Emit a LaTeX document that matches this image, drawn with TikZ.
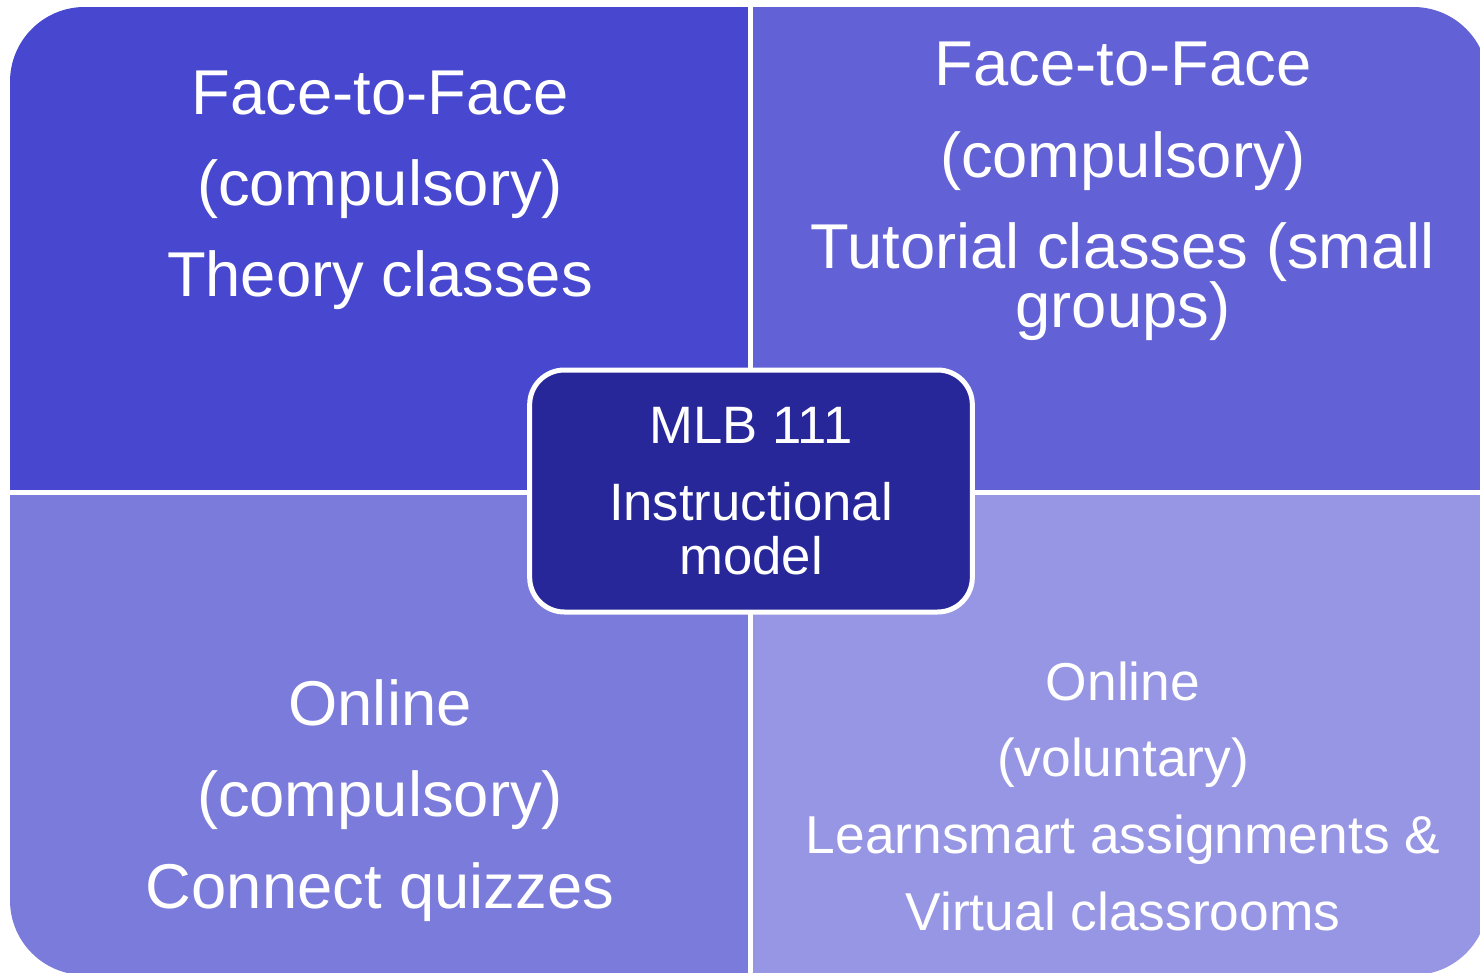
\documentclass[tikz,border=0pt]{standalone}
\usepackage{fontspec}
\setmainfont{Liberation Sans}
\usetikzlibrary{positioning}
\definecolor{theoryblue}{RGB}{71, 71, 207}
\definecolor{tutorblue}{RGB}{98, 98, 214}
\definecolor{quizblue}{RGB}{123, 123, 220}
\definecolor{virtualblue}{RGB}{150, 150, 228}
\definecolor{modelnavy}{RGB}{39, 39, 154}

\begin{document}
\begin{tikzpicture}[x=0.75pt, y=-0.75pt,
    quadtext/.style={text=white, align=center, inner sep=0pt, anchor=base},
    bigtext/.style={font=\fontsize{47.5}{68.5}\selectfont},
    smalltext/.style={font=\fontsize{40}{57.5}\selectfont}]
  \useasboundingbox (0,0) rectangle (1480,973);

  % Quarters, rounded only on the outer corners
  \begin{scope}
    \clip[rounded corners=56pt] (10,7) rectangle (1488,975);
    \fill[theoryblue] (10,7) rectangle (748,490);
    \fill[tutorblue] (753,7) rectangle (1488,490);
    \fill[quizblue] (10,495) rectangle (748,975);
    \fill[virtualblue] (753,495) rectangle (1488,975);
  \end{scope}

  % Face-to-Face (base = last line)
  \node[quadtext, bigtext] (theory) at (380,297) {Face-to-Face\\(compulsory)\\Theory classes};
  \node[quadtext, bigtext] (tutorial) at (1123,328) {Face-to-Face\\(compulsory)\\Tutorial classes (small\\[-24pt]groups)};

  % Online
  \node[quadtext, bigtext] (quizzes) at (380,908) {Online\\(compulsory)\\Connect quizzes};
  \node[quadtext, smalltext] (virtual) at (1123,930) {Online\\(voluntary)\\Learnsmart assignments \&\\Virtual classrooms};

  % Centre
  \node[draw=white, line width=3.75pt, fill=modelnavy, rounded corners=26pt,
        minimum width=332pt, minimum height=181.5pt, text=white, align=center,
        font=\fontsize{39.5}{40.5}\selectfont] (model) at (751,491)
        {MLB 111\\[17.5pt]Instructional\\model};
\end{tikzpicture}
\end{document}
